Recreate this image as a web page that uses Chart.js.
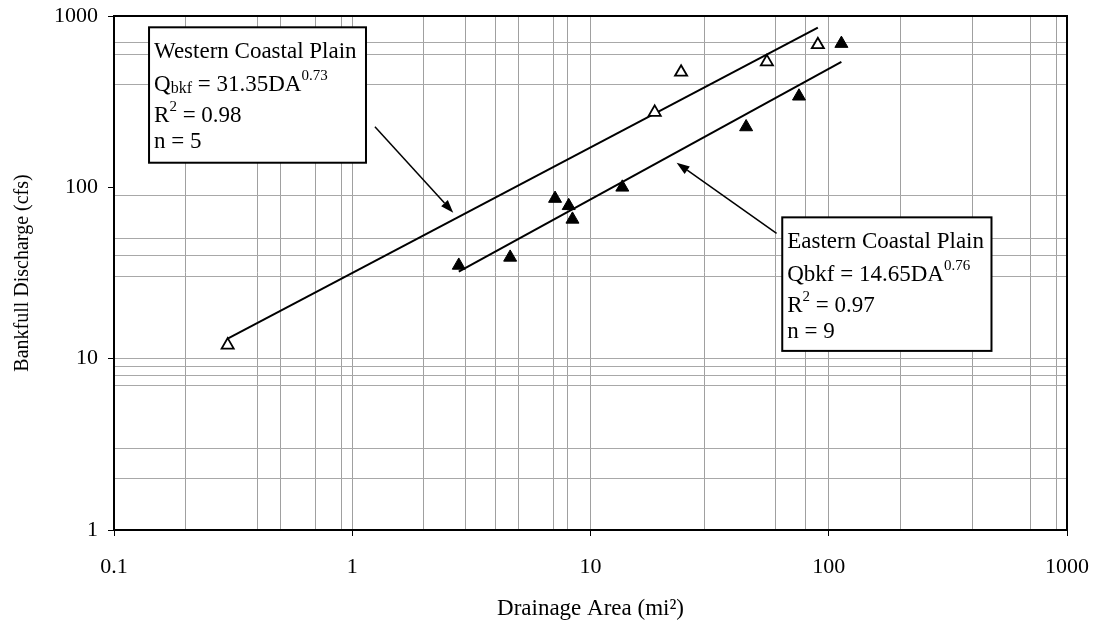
<!DOCTYPE html>
<html>
<head>
<meta charset="utf-8">
<title>Bankfull Discharge vs Drainage Area</title>
<script src="https://cdn.jsdelivr.net/npm/chart.js@4.4.1/dist/chart.umd.min.js"></script>
<style>
  html, body { margin: 0; padding: 0; background: #fff; }
  canvas { display: block; }
</style>
</head>
<body>
<canvas id="dischargeChart" width="1096" height="623"></canvas>
<script>
// Western Coastal Plain sites (open triangles)
const westArea = [0.3, 18.6, 24, 55, 90];
const westQ = [12, 274, 470, 540, 680];

// Eastern Coastal Plain sites (filled triangles)
const eastArea = [2.8, 4.6, 7.1, 8.1, 8.4, 13.6, 45, 75, 113];
const eastQ = [35, 39, 86, 78, 65, 100, 225, 340, 690];

// ends of the two fitted curves
const westFitArea = [0.3, 90];
const westFitQ = [13.1, 855];
const eastFitArea = [2.8, 113];
const eastFitQ = [32.2, 540];

// labelled ticks and the grid lines that show in the original
const xMajorTicks = [0.1, 1, 10, 100, 1000];
const xGridValues = [0.2, 0.4, 0.5, 0.7, 0.9, 1, 2, 3, 4, 5, 7, 8, 10, 30, 60, 80, 100, 200, 400, 700, 900];
const yMajorTicks = [1, 10, 100, 1000];
const yGridValues = [2, 3, 7, 8, 9, 10, 30, 40, 50, 90, 400, 600, 700];

const serif = '"Liberation Serif", "Times New Roman", serif';
const font = size => size + 'px ' + serif;

// text boxes and arrows, placed in data units (area, discharge)
const notes = [
    {
        box: { x0: 0.1403, x1: 1.142, y0: 859, y1: 139.2 },
        lines: [
            [{ t: 'Western Coastal Plain', s: 23 }],
            [{ t: 'Q', s: 23 }, { t: 'bkf', s: 16, dy: 2 }, { t: ' = 31.35DA', s: 23 }, { t: '0.73', s: 15, dy: -11 }],
            [{ t: 'R', s: 23 }, { t: '2', s: 15, dy: -11 }, { t: ' = 0.98', s: 23 }],
            [{ t: 'n = 5', s: 23 }]
        ],
        arrow: { from: [1.245, 225.9], to: [2.654, 71.1] }
    },
    {
        box: { x0: 63.8, x1: 482, y0: 66.8, y1: 11.1 },
        lines: [
            [{ t: 'Eastern Coastal Plain', s: 23 }],
            [{ t: 'Qbkf = 14.65DA', s: 23 }, { t: '0.76', s: 15, dy: -11 }],
            [{ t: 'R', s: 23 }, { t: '2', s: 15, dy: -11 }, { t: ' = 0.97', s: 23 }],
            [{ t: 'n = 9', s: 23 }]
        ],
        arrow: { from: [60.4, 53.9], to: [22.98, 139.2] }
    }
];
const lineOffsets = [31, 64, 95, 121];

function drawArrow(ctx, x1, y1, x2, y2) {
    const ang = Math.atan2(y2 - y1, x2 - x1);
    const len = 13, half = 4.5;
    const bx = x2 - Math.cos(ang) * len, by = y2 - Math.sin(ang) * len;
    ctx.beginPath();
    ctx.moveTo(x1, y1);
    ctx.lineTo(bx, by);
    ctx.stroke();
    ctx.beginPath();
    ctx.moveTo(x2, y2);
    ctx.lineTo(bx - Math.sin(ang) * half, by + Math.cos(ang) * half);
    ctx.lineTo(bx + Math.sin(ang) * half, by - Math.cos(ang) * half);
    ctx.closePath();
    ctx.fill();
}

const notesPlugin = {
    id: 'notes',
    afterDraw(chart) {
        const { ctx, chartArea: a, scales: { x, y } } = chart;
        ctx.save();
        ctx.strokeStyle = '#000';
        ctx.fillStyle = '#000';

        // top and right side of the frame
        ctx.lineWidth = 2;
        ctx.beginPath();
        ctx.moveTo(a.left, a.top);
        ctx.lineTo(a.right, a.top);
        ctx.lineTo(a.right, a.bottom);
        ctx.stroke();

        notes.forEach(n => {
            // arrow
            ctx.lineWidth = 1.5;
            ctx.fillStyle = '#000';
            drawArrow(ctx,
                x.getPixelForValue(n.arrow.from[0]), y.getPixelForValue(n.arrow.from[1]),
                x.getPixelForValue(n.arrow.to[0]), y.getPixelForValue(n.arrow.to[1]));

            // box
            const bx0 = x.getPixelForValue(n.box.x0), bx1 = x.getPixelForValue(n.box.x1);
            const by0 = y.getPixelForValue(n.box.y0), by1 = y.getPixelForValue(n.box.y1);
            ctx.fillStyle = '#fff';
            ctx.fillRect(bx0, by0, bx1 - bx0, by1 - by0);
            ctx.lineWidth = 2;
            ctx.strokeRect(bx0, by0, bx1 - bx0, by1 - by0);

            // text, piece by piece for sub/superscripts
            ctx.fillStyle = '#000';
            ctx.textBaseline = 'alphabetic';
            ctx.textAlign = 'left';
            n.lines.forEach((runs, i) => {
                let tx = bx0 + 5;
                const ty = by0 + lineOffsets[i];
                runs.forEach(r => {
                    ctx.font = font(r.s);
                    ctx.fillText(r.t, tx, ty + (r.dy || 0));
                    tx += ctx.measureText(r.t).width;
                });
            });
        });
        ctx.restore();
    }
};

function tickList(majors, grid) {
    const all = Array.from(new Set([...majors, ...grid])).sort((p, q) => p - q);
    return all.map(v => ({ value: v, major: majors.includes(v) }));
}

const ctx = document.getElementById('dischargeChart').getContext('2d');
new Chart(ctx, {
    type: 'scatter',
    data: {
        datasets: [
            {
                label: 'Western Coastal Plain',
                data: westArea.map((v, i) => ({ x: v, y: westQ[i] })),
                pointStyle: 'triangle',
                pointRadius: 7,
                backgroundColor: '#fff',
                borderColor: '#000',
                borderWidth: 1.8
            },
            {
                label: 'Eastern Coastal Plain',
                data: eastArea.map((v, i) => ({ x: v, y: eastQ[i] })),
                pointStyle: 'triangle',
                pointRadius: 7.5,
                backgroundColor: '#000',
                borderColor: '#000',
                borderWidth: 1
            },
            {
                label: 'Western fit',
                data: westFitArea.map((v, i) => ({ x: v, y: westFitQ[i] })),
                showLine: true,
                pointRadius: 0,
                borderColor: '#000',
                borderWidth: 2
            },
            {
                label: 'Eastern fit',
                data: eastFitArea.map((v, i) => ({ x: v, y: eastFitQ[i] })),
                showLine: true,
                pointRadius: 0,
                borderColor: '#000',
                borderWidth: 2
            }
        ]
    },
    options: {
        responsive: false,
        animation: false,
        devicePixelRatio: 1,
        layout: { padding: { top: 16, right: 29, bottom: 0, left: 0 } },
        plugins: {
            legend: { display: false },
            tooltip: { enabled: false }
        },
        scales: {
            x: {
                type: 'logarithmic',
                min: 0.1,
                max: 1000,
                afterBuildTicks: scale => { scale.ticks = tickList(xMajorTicks, xGridValues); },
                afterFit: scale => {
                    scale.height = 93;
                    scale.paddingLeft = 0;
                    scale.paddingRight = 0;
                },
                grid: {
                    color: c => (c.tick && xGridValues.includes(c.tick.value)) ? '#a0a0a0' : 'rgba(0,0,0,0)',
                    tickColor: c => (c.tick && xMajorTicks.includes(c.tick.value)) ? '#000' : 'rgba(0,0,0,0)',
                    tickLength: 6,
                    lineWidth: 1
                },
                border: { display: true, color: '#000', width: 2 },
                ticks: {
                    autoSkip: false,
                    maxRotation: 0,
                    padding: 18,
                    color: '#000',
                    font: { family: serif, size: 22 },
                    callback: v => xMajorTicks.includes(v) ? String(v) : ''
                },
                title: {
                    display: true,
                    text: 'Drainage Area (mi²)',
                    color: '#000',
                    font: { family: serif, size: 23 },
                    padding: { top: 0, bottom: 0 }
                }
            },
            y: {
                type: 'logarithmic',
                min: 1,
                max: 1000,
                afterBuildTicks: scale => { scale.ticks = tickList(yMajorTicks, yGridValues); },
                afterFit: scale => {
                    scale.width = 114;
                    scale.paddingTop = 0;
                    scale.paddingBottom = 0;
                },
                grid: {
                    color: c => (c.tick && yGridValues.includes(c.tick.value)) ? '#a8a8a8' : 'rgba(0,0,0,0)',
                    tickColor: c => (c.tick && yMajorTicks.includes(c.tick.value)) ? '#000' : 'rgba(0,0,0,0)',
                    tickLength: 6,
                    lineWidth: 1,
                    tickBorderDash: [],
                },
                border: { display: true, color: '#000', width: 2, dash: [] },
                ticks: {
                    autoSkip: false,
                    padding: 10,
                    color: '#000',
                    font: { family: serif, size: 22 },
                    callback: v => yMajorTicks.includes(v) ? String(v) : ''
                },
                title: {
                    display: true,
                    text: 'Bankfull Discharge (cfs)',
                    color: '#000',
                    font: { family: serif, size: 20 },
                    padding: { top: 11, bottom: 0 }
                }
            }
        }
    },
    plugins: [notesPlugin]
});
</script>
</body>
</html>
